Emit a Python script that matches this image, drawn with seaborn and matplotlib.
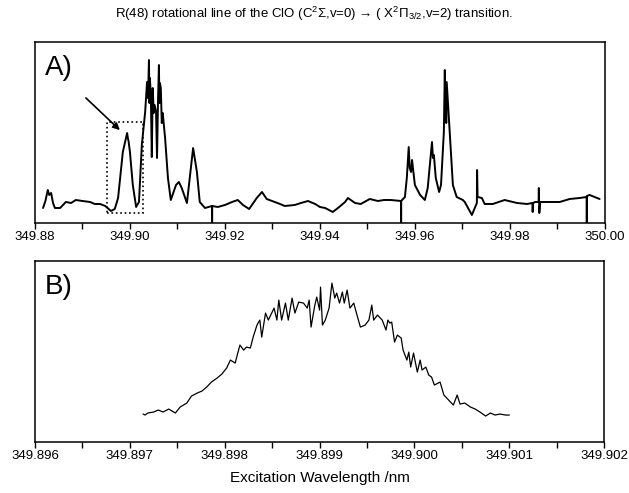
import matplotlib
matplotlib.use("Agg")
import matplotlib.pyplot as plt
from matplotlib.patches import Rectangle
from matplotlib.ticker import FormatStrFormatter, MultipleLocator
import seaborn as sns

# panel A: survey scan (wavelength / nm, intensity in arbitrary units)
wl_a = [349.8817, 349.8822, 349.8827, 349.8830, 349.8834, 349.8838, 349.8842, 349.8853,
        349.8865, 349.8876, 349.8886, 349.8900, 349.8916, 349.8926, 349.8937, 349.8948,
        349.8960, 349.8968, 349.8975, 349.8985, 349.8992, 349.8994, 349.8996,
        349.8997, 349.9000, 349.9006, 349.9013, 349.9019, 349.9025, 349.9032, 349.9036,
        349.9038, 349.9040, 349.9041, 349.9042, 349.9044, 349.9046, 349.9048, 349.9050,
        349.9052, 349.9055, 349.9057, 349.9059, 349.9061, 349.9062, 349.9063, 349.9065,
        349.9067, 349.9069, 349.9074, 349.9080, 349.9086,
        349.9097, 349.9103, 349.9109, 349.9120, 349.9126, 349.9133, 349.9141, 349.9147,
        349.9158, 349.91729, 349.9173, 349.91731, 349.9185, 349.9200, 349.9215, 349.9227,
        349.9238, 349.9251, 349.9267, 349.9278, 349.9288, 349.9305, 349.9316, 349.9326,
        349.9347, 349.9360, 349.9375, 349.9390, 349.9400,
        349.9411, 349.9427, 349.9438, 349.9453, 349.9459, 349.9474, 349.9486, 349.9505,
        349.9522, 349.9535, 349.9549, 349.95709, 349.9571, 349.95711, 349.9579, 349.9583,
        349.9587, 349.9589, 349.9592, 349.9594, 349.9600, 349.9611, 349.9621, 349.9627,
        349.9634, 349.9636, 349.9638, 349.9640, 349.9644, 349.9651, 349.9655, 349.9661,
        349.9663, 349.9664, 349.9665, 349.9666, 349.9667, 349.9674, 349.9680, 349.9688,
        349.9701, 349.9705, 349.9720, 349.9726, 349.97305, 349.9731, 349.9732, 349.9741,
        349.9747, 349.9764, 349.9789, 349.9815, 349.9836, 349.98475, 349.9848, 349.9849,
        349.9853, 349.98605, 349.9861, 349.9862, 349.9864, 349.9878, 349.9905, 349.9926,
        349.9947, 349.99619, 349.9962, 349.99621, 349.9968, 349.9989]
int_a = [15, 22, 33, 28, 30, 20, 15, 15,
         21, 20, 23, 22, 21, 19, 19, 17,
         12, 14, 25, 71, 86, 90, 84,
         82, 71, 38, 16, 21, 78, 111, 141,
         125, 163, 120, 145, 128, 66, 135, 110,
         118, 111, 65, 120, 158, 120, 140, 135,
         100, 110, 85, 45, 23,
         38, 41, 35, 20, 45, 75, 51, 21,
         15, 17, 0, 17, 16, 18, 21, 23,
         18, 14, 25, 31, 24, 21, 19, 17,
         18, 20, 22, 19, 16,
         15, 11, 15, 21, 25, 20, 19, 24,
         22, 23, 23, 22, 0, 22, 26, 45,
         76, 55, 51, 63, 38, 28, 23, 35,
         71, 81, 65, 68, 45, 31, 38, 91,
         153, 110, 130, 100, 141, 85, 38, 26,
         23, 21, 8, 15, 20, 53, 26, 25,
         19, 19, 23, 20, 19, 20, 11, 20,
         21, 21, 35, 10, 21, 21, 21, 24,
         25, 26, 0, 27, 28, 24]

# panel B: high resolution scan of the boxed line
wl_b = [349.89714, 349.89716, 349.89719, 349.89725, 349.89730, 349.89735, 349.89741, 349.89748,
        349.89753, 349.89760, 349.89765, 349.89771, 349.89776, 349.89781, 349.89786, 349.89792,
        349.89797, 349.89802, 349.89806, 349.89811, 349.89816, 349.89820, 349.89823, 349.89827,
        349.89830, 349.89834, 349.89837, 349.89839, 349.89843, 349.89846, 349.89852, 349.89855,
        349.89857, 349.89860, 349.89864, 349.89867, 349.89871, 349.89874, 349.89878, 349.89883,
        349.89887, 349.89889, 349.89891, 349.89895, 349.89897, 349.89900, 349.89901, 349.89903,
        349.89906, 349.89910, 349.89913, 349.89916, 349.89918, 349.89921, 349.89924, 349.89926,
        349.89929, 349.89932, 349.89936, 349.89940, 349.89943, 349.89948, 349.89952, 349.89955,
        349.89957, 349.89961, 349.89966, 349.89970, 349.89972, 349.89974, 349.89976, 349.89979,
        349.89982, 349.89986, 349.89988, 349.89992, 349.89994, 349.89996, 349.89999, 349.90003,
        349.90006, 349.90008, 349.90012, 349.90015, 349.90018, 349.90021, 349.90025, 349.90027,
        349.90031, 349.90036, 349.90041, 349.90045, 349.90048, 349.90053, 349.90059, 349.90064,
        349.90069, 349.90075, 349.90080, 349.90085, 349.90090, 349.90096, 349.90100]
int_b = [28, 27, 29, 30, 32, 30, 33, 29,
         35, 39, 46, 49, 51, 55, 60, 64,
         68, 74, 82, 79, 97, 92, 95, 94,
         105, 117, 122, 105, 129, 122, 134, 122,
         142, 122, 139, 122, 144, 129, 140, 139,
         134, 142, 115, 137, 145, 132, 155, 117,
         122, 134, 159, 144, 149, 139, 150, 139,
         152, 134, 139, 125, 115, 117, 122, 137,
         122, 127, 122, 112, 122, 119, 120, 100,
         107, 104, 92, 82, 90, 75, 89, 70,
         82, 72, 75, 67, 65, 57, 59, 60,
         47, 42, 37, 47, 38, 39, 35, 33,
         30, 26, 29, 27, 28, 27, 27]

sns.set_style("ticks")
plt.rcParams["font.family"] = ["Liberation Sans", "DejaVu Sans"]
plt.rcParams["mathtext.fontset"] = "custom"
plt.rcParams["mathtext.rm"] = "Liberation Sans"
plt.rcParams["mathtext.it"] = "Liberation Sans:italic"
for k in ("text.color", "axes.labelcolor", "xtick.color", "ytick.color", "axes.edgecolor"):
    plt.rcParams[k] = "black"

fig = plt.figure(figsize=(6.29, 4.93), dpi=100)
ax1 = fig.add_axes([0.0556, 0.5477, 0.906, 0.367])
ax2 = fig.add_axes([0.0556, 0.1034, 0.905, 0.367])

sns.lineplot(x=wl_a, y=int_a, ax=ax1, color="black", lw=1.4, estimator=None, sort=False)
sns.lineplot(x=wl_b, y=int_b, ax=ax2, color="black", lw=0.9, estimator=None, sort=False)

ax1.set_xlim(349.88, 350.00)
ax1.xaxis.set_major_locator(MultipleLocator(0.02))
ax1.xaxis.set_minor_locator(MultipleLocator(0.01))
ax1.xaxis.set_major_formatter(FormatStrFormatter("%.2f"))

ax2.set_xlim(349.896, 349.902)
ax2.xaxis.set_major_locator(MultipleLocator(0.001))
ax2.xaxis.set_minor_locator(MultipleLocator(0.0005))
ax2.xaxis.set_major_formatter(FormatStrFormatter("%.3f"))

for ax in (ax1, ax2):
    ax.set_ylim(0, 181)
    ax.set_yticks([])
    ax.set_ylabel("")
    for s in ax.spines.values():
        s.set_visible(True)
        s.set_linewidth(1.1)
    ax.tick_params(axis="x", which="both", direction="out", length=4, width=1,
                   labelsize=9.5, pad=2)

# box and arrow marking the line shown in B
ax1.add_patch(Rectangle((349.8952, 10), 0.0075, 91, fill=False, ls=":", lw=1.2, color="black"))
ax1.annotate("", xy=(349.8983, 91), xytext=(349.8903, 127),
             arrowprops=dict(arrowstyle="-|>", color="black", lw=1.2, mutation_scale=10))

ax1.text(0.018, 0.93, "A)", transform=ax1.transAxes, fontsize=20, va="top", ha="left")
ax2.text(0.018, 0.93, "B)", transform=ax2.transAxes, fontsize=20, va="top", ha="left")

ax2.set_xlabel("Excitation Wavelength /nm", fontsize=11, labelpad=6)
fig.text(0.5, 0.972, "R(48) rotational line of the ClO (C$^2\\Sigma$,v=0) \u2192 ( X$^2\\Pi_{3/2}$,v=2) transition.",
         ha="center", va="center", fontsize=9.5)

fig.savefig("out.png", dpi=100)
